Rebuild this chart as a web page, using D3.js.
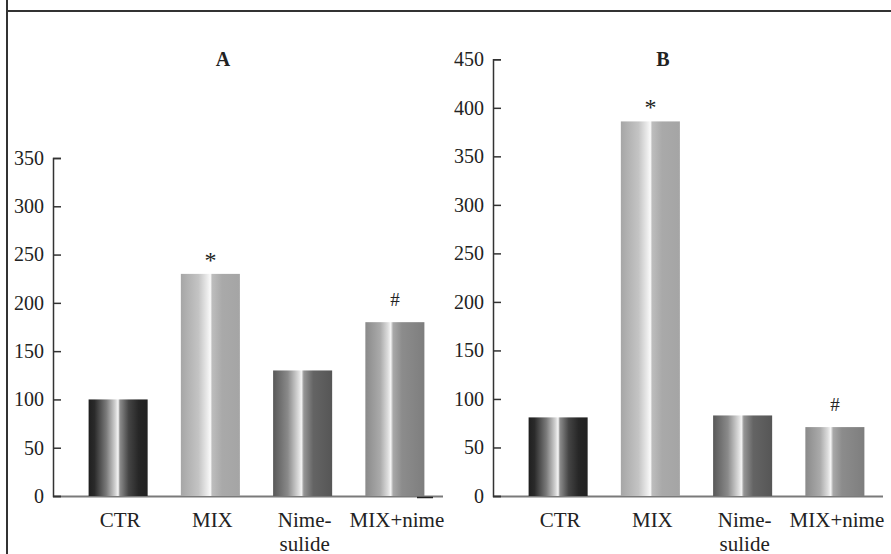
<!DOCTYPE html>
<html>
<head>
<meta charset="utf-8">
<script src="https://cdn.jsdelivr.net/npm/d3@7"></script>
<style>
  html, body { margin: 0; padding: 0; background: #fff; }
  svg { display: block; }
  text { font-family: "Liberation Serif", "DejaVu Serif", serif; fill: #222; }
</style>
</head>
<body>
<svg id="chart" width="891" height="554"></svg>
<script>
// ---- data ----
const categories = ["CTR", "MIX", "Nimesulide", "MIX+nime"];
const categoryLabels = [["CTR"], ["MIX"], ["Nime-", "sulide"], ["MIX+nime"]];
const valuesA = [100, 230, 130, 180];
const valuesB = [81, 386, 83, 71];
const marksA = ["", "*", "", "#"];
const marksB = ["", "*", "", "#"];
const ticksA = [0, 50, 100, 150, 200, 250, 300, 350];
const ticksB = [0, 50, 100, 150, 200, 250, 300, 350, 400, 450];
const panelTitles = ["A", "B"];

// ---- styles (gradient looks per category) ----
const gradStops = {
  "CTR": [[0, "#1f1f1f"], [0.1, "#2a2a2a"], [0.3, "#7a7a7a"], [0.45, "#d0d0d0"], [0.5, "#f6f6f6"], [0.53, "#8c8c8c"], [0.68, "#444"], [0.85, "#262626"], [1, "#222"]],
  "MIX": [[0, "#a6a6a6"], [0.3, "#c4c4c4"], [0.46, "#eeeeee"], [0.5, "#fafafa"], [0.53, "#bdbdbd"], [0.7, "#a9a9a9"], [1, "#a5a5a5"]],
  "Nimesulide": [[0, "#585858"], [0.25, "#8a8a8a"], [0.42, "#d6d6d6"], [0.48, "#f2f2f2"], [0.52, "#959595"], [0.68, "#646464"], [1, "#565656"]],
  "MIX+nime": [[0, "#8a8a8a"], [0.25, "#aaaaaa"], [0.38, "#dcdcdc"], [0.43, "#f6f6f6"], [0.47, "#a8a8a8"], [0.62, "#8c8c8c"], [1, "#7e7e7e"]]
};

const svg = d3.select("#chart");
const defs = svg.append("defs");
categories.forEach((c, i) => {
  const g = defs.append("linearGradient").attr("id", "g" + i)
    .attr("x1", "0%").attr("x2", "100%").attr("y1", "0%").attr("y2", "0%");
  gradStops[c].forEach(s => g.append("stop").attr("offset", s[0]).attr("stop-color", s[1]));
});

// frame lines
svg.append("line").attr("x1", 7).attr("x2", 891).attr("y1", 11).attr("y2", 11)
  .attr("stroke", "#333").attr("stroke-width", 2);
svg.append("line").attr("x1", 7).attr("x2", 7).attr("y1", 0).attr("y2", 554)
  .attr("stroke", "#333").attr("stroke-width", 2);

function panel(offsetX, values, marks, ticks, yTop, maxV, title) {
  const g = svg.append("g").attr("transform", `translate(${offsetX},0)`);
  const axisX = 53, baseY = 496, axisEnd = 443;
  const y = d3.scaleLinear().domain([0, maxV]).range([baseY, yTop]);
  const x = d3.scaleBand().domain(categories).range([72, 441]).paddingInner(0.36).paddingOuter(0.18);

  // x baseline
  g.append("line").attr("x1", axisX).attr("x2", axisEnd).attr("y1", baseY + 0.5).attr("y2", baseY + 0.5)
    .attr("stroke", "#7a7a7a").attr("stroke-width", 2);

  // bars
  g.selectAll("rect.bar").data(values).join("rect").attr("class", "bar")
    .attr("x", (d, i) => x(categories[i]))
    .attr("width", x.bandwidth())
    .attr("y", d => y(d))
    .attr("height", d => baseY - y(d))
    .attr("fill", (d, i) => `url(#g${i})`);

  // y axis
  const ax = g.append("g").attr("transform", `translate(${axisX},0)`)
    .call(d3.axisLeft(y).tickValues(ticks).tickSizeInner(-8).tickSizeOuter(-8).tickPadding(9));
  ax.select(".domain").attr("stroke", "#333").attr("stroke-width", 1.5);
  ax.selectAll(".tick line").attr("stroke", "#333").attr("stroke-width", 1.5);
  ax.selectAll(".tick text").attr("font-family", "Liberation Serif").attr("font-size", 20).attr("fill", "#222");

  // significance marks
  g.selectAll("text.mark").data(values).join("text").attr("class", "mark")
    .attr("x", (d, i) => x(categories[i]) + x.bandwidth() / 2)
    .attr("y", (d, i) => marks[i] === "*" ? y(d) - 6 : y(d) - 16)
    .attr("text-anchor", "middle")
    .attr("font-size", (d, i) => marks[i] === "*" ? 24 : 19)
    .text((d, i) => marks[i]);

  // x labels
  const lab = g.selectAll("text.xl").data(categoryLabels).join("text").attr("class", "xl")
    .attr("text-anchor", "middle").attr("font-size", 21)
    .attr("transform", (d, i) => `translate(${x(categories[i]) + x.bandwidth() / 2 + 2},527)`);
  lab.selectAll("tspan").data(d => d).join("tspan")
    .attr("x", 0).attr("y", (d, j) => j * 23.5).text(d => d);

  // title
  g.append("text").attr("x", 223).attr("y", 66).attr("text-anchor", "middle")
    .attr("font-size", 20).attr("font-weight", "bold").text(title);
  return g;
}

const gA = panel(0, valuesA, marksA, ticksA, 158, 350, panelTitles[0]);
// small dark segment at the end of panel A's baseline
gA.append("line").attr("x1", 417).attr("x2", 433).attr("y1", 497.5).attr("y2", 497.5)
  .attr("stroke", "#222").attr("stroke-width", 1.5);
panel(440, valuesB, marksB, ticksB, 59.3, 450, panelTitles[1]);
</script>
</body>
</html>
